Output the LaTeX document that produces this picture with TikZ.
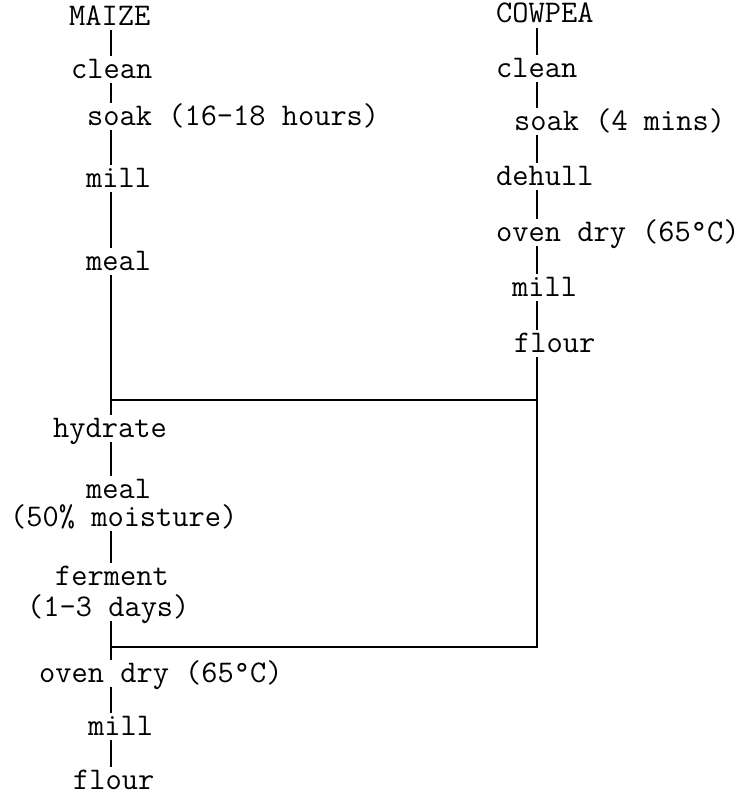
\documentclass[tikz,border=0pt]{standalone}
\usepackage{fontspec}
\tikzset{
	stage/.style={font=\ttfamily\fontsize{31.5}{36}\selectfont, inner sep=0pt, text height=18.5pt, text depth=0pt, anchor=base west},
	link/.style={line width=1.3pt, shorten <=5pt, shorten >=3pt},
	rail/.style={line width=1.3pt}
}
\begin{document}
\begin{tikzpicture}[x=1pt, y=-1pt]
	\def\xl{111}
	\def\xr{537}
	\useasboundingbox (0,0) rectangle (745,795);
	
	% Column positions and joins
	\coordinate (colL) at (\xl,0);
	\coordinate (colR) at (\xr,0);
	\coordinate (joinTop) at (\xr,400);
	\coordinate (joinBot) at (\xr,647);
	
	% Maize steps
	\node[stage] (maize) at (69,25) {MAIZE};
	\node[stage] (cleanL) at (71,78) {clean};
	\node[stage] (soakL) at (87,125) {soak (16-18 hours)};
	\node[stage] (millL) at (86,187) {mill};
	\node[stage] (mealL) at (86,270) {meal};
	\node[stage] (hydrate) at (53,437) {hydrate};
	\node[stage] (mealM) at (86,498) {meal};
	\node[stage] (moist) at (10,526) {(50\% moisture)};
	\node[stage] (ferment) at (55,585) {ferment};
	\node[stage] (days) at (27,616) {(1-3 days)};
	\node[stage] (ovenL) at (39,682) {oven dry (65\textdegree C)};
	\node[stage] (millB) at (88,735) {mill};
	\node[stage] (flourB) at (73,789) {flour};
	
	% Cowpea steps
	\node[stage] (cowpea) at (496,23) {COWPEA};
	\node[stage] (cleanR) at (496,77) {clean};
	\node[stage] (soakR) at (514,130) {soak (4 mins)};
	\node[stage] (dehull) at (496,185) {dehull};
	\node[stage] (ovenR) at (496,241) {oven dry (65\textdegree C)};
	\node[stage] (millR) at (512,296) {mill};
	\node[stage] (flourR) at (514,352) {flour};
	
	% Left links
	\draw[link] (maize.south -| colL) -- (cleanL.north -| colL);
	\draw[link] (cleanL.south -| colL) -- (soakL.north -| colL);
	\draw[link] (soakL.south -| colL) -- (millL.north -| colL);
	\draw[link] (millL.south -| colL) -- (mealL.north -| colL);
	\draw[link] (mealL.south -| colL) -- (hydrate.north -| colL);
	\draw[link] (hydrate.south -| colL) -- (mealM.north -| colL);
	\draw[link] (moist.south -| colL) -- (ferment.north -| colL);
	\draw[link] (days.south -| colL) -- (ovenL.north -| colL);
	\draw[link] (ovenL.south -| colL) -- (millB.north -| colL);
	\draw[link] (millB.south -| colL) -- (flourB.north -| colL);
	
	% Right links
	\draw[link] (cowpea.south -| colR) -- (cleanR.north -| colR);
	\draw[link] (cleanR.south -| colR) -- (soakR.north -| colR);
	\draw[link] (soakR.south -| colR) -- (dehull.north -| colR);
	\draw[link] (dehull.south -| colR) -- (ovenR.north -| colR);
	\draw[link] (ovenR.south -| colR) -- (millR.north -| colR);
	\draw[link] (millR.south -| colR) -- (flourR.north -| colR);
	
	% Joins to maize line
	\draw[rail, shorten <=5pt] (flourR.south -| colR) -- (joinBot) -- (joinBot -| colL);
	\draw[rail] (joinTop -| colL) -- (joinTop);
\end{tikzpicture}
\end{document}
